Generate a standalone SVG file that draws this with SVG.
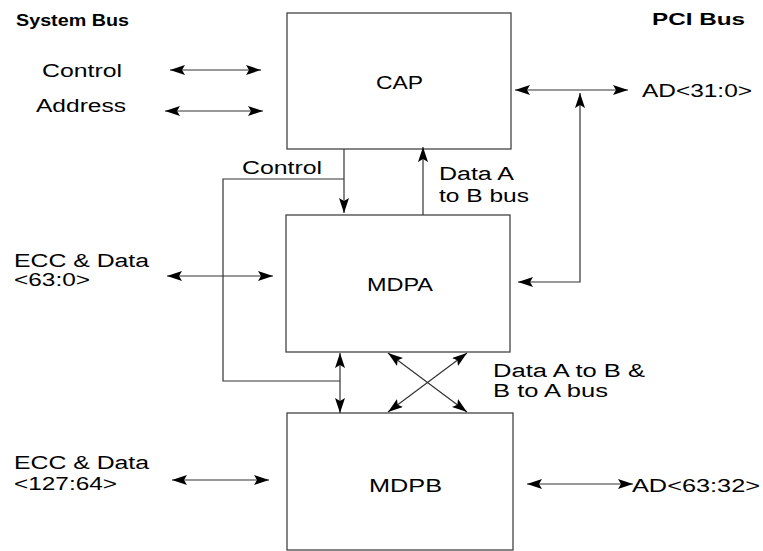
<svg xmlns="http://www.w3.org/2000/svg" width="763" height="551" viewBox="0 0 763 551">
<style>
.box{fill:#fff;stroke:#444;stroke-width:1.3}
.ln{fill:none;stroke:#333;stroke-width:1.2}
.bi{marker-start:url(#ah);marker-end:url(#ah)}
.en{marker-end:url(#ah)}
text{font-family:"Liberation Sans",Arial,sans-serif;font-size:18px;fill:#000}
.b{font-weight:bold;font-size:16.5px}
</style>
<defs>
<marker id="ah" markerUnits="userSpaceOnUse" markerWidth="17" markerHeight="11" refX="15" refY="5" orient="auto-start-reverse" viewBox="0 0 17 11">
<path d="M0,0 L15,5 L0,10 L3,5 z" fill="#000"/>
</marker>
</defs>
<rect width="763" height="551" fill="#fff"/>
<g id="titles">
<text class="b" x="16" y="26" textLength="113" lengthAdjust="spacingAndGlyphs">System Bus</text>
<text class="b" x="652" y="25" textLength="93" lengthAdjust="spacingAndGlyphs">PCI Bus</text>
</g>
<g id="cap">
<rect class="box" x="287" y="13" width="224" height="136"/>
<text x="376" y="89" textLength="47" lengthAdjust="spacingAndGlyphs">CAP</text>
</g>
<g id="mdpa">
<rect class="box" x="286" y="215" width="224" height="137"/>
<text x="367" y="291" textLength="66" lengthAdjust="spacingAndGlyphs">MDPA</text>
</g>
<g id="mdpb">
<rect class="box" x="287" y="413" width="226" height="137"/>
<text x="369" y="492" textLength="73" lengthAdjust="spacingAndGlyphs">MDPB</text>
</g>
<g id="connectors">
<line class="ln bi" x1="170" y1="70" x2="261" y2="70"/>
<line class="ln bi" x1="165" y1="111" x2="263" y2="111"/>
<line class="ln bi" x1="515" y1="90" x2="628" y2="90"/>
<path class="ln bi" d="M518,282 L580,282 L580,93"/>
<path class="ln en" d="M344,149 L344,213"/>
<path class="ln" d="M344,179 L223,179 L223,381 L340,381"/>
<path class="ln en" d="M423,215 L423,147"/>
<line class="ln bi" x1="167" y1="276" x2="273" y2="276"/>
<line class="ln bi" x1="340" y1="353" x2="340" y2="413"/>
<line class="ln bi" x1="388" y1="353" x2="467" y2="412"/>
<line class="ln bi" x1="467" y1="353" x2="388" y2="412"/>
<line class="ln bi" x1="172" y1="480" x2="269" y2="480"/>
<line class="ln bi" x1="527" y1="484" x2="633" y2="484"/>
</g>
<g id="labels">
<text x="42" y="77" textLength="80" lengthAdjust="spacingAndGlyphs">Control</text>
<text x="36" y="112" textLength="90" lengthAdjust="spacingAndGlyphs">Address</text>
<text x="642" y="97" textLength="110" lengthAdjust="spacingAndGlyphs">AD&lt;31:0&gt;</text>
<text x="242" y="174" textLength="80" lengthAdjust="spacingAndGlyphs">Control</text>
<text x="439" y="180" textLength="75" lengthAdjust="spacingAndGlyphs">Data A</text>
<text x="439" y="202" textLength="90" lengthAdjust="spacingAndGlyphs">to B bus</text>
<text x="14" y="267" textLength="135" lengthAdjust="spacingAndGlyphs">ECC &amp; Data</text>
<text x="14" y="286" textLength="76" lengthAdjust="spacingAndGlyphs">&lt;63:0&gt;</text>
<text x="493" y="377" textLength="152" lengthAdjust="spacingAndGlyphs">Data A to B &amp;</text>
<text x="493" y="397" textLength="115" lengthAdjust="spacingAndGlyphs">B to A bus</text>
<text x="14" y="469" textLength="135" lengthAdjust="spacingAndGlyphs">ECC &amp; Data</text>
<text x="14" y="490" textLength="103" lengthAdjust="spacingAndGlyphs">&lt;127:64&gt;</text>
<text x="632" y="492" textLength="128" lengthAdjust="spacingAndGlyphs">AD&lt;63:32&gt;</text>
</g>
</svg>
